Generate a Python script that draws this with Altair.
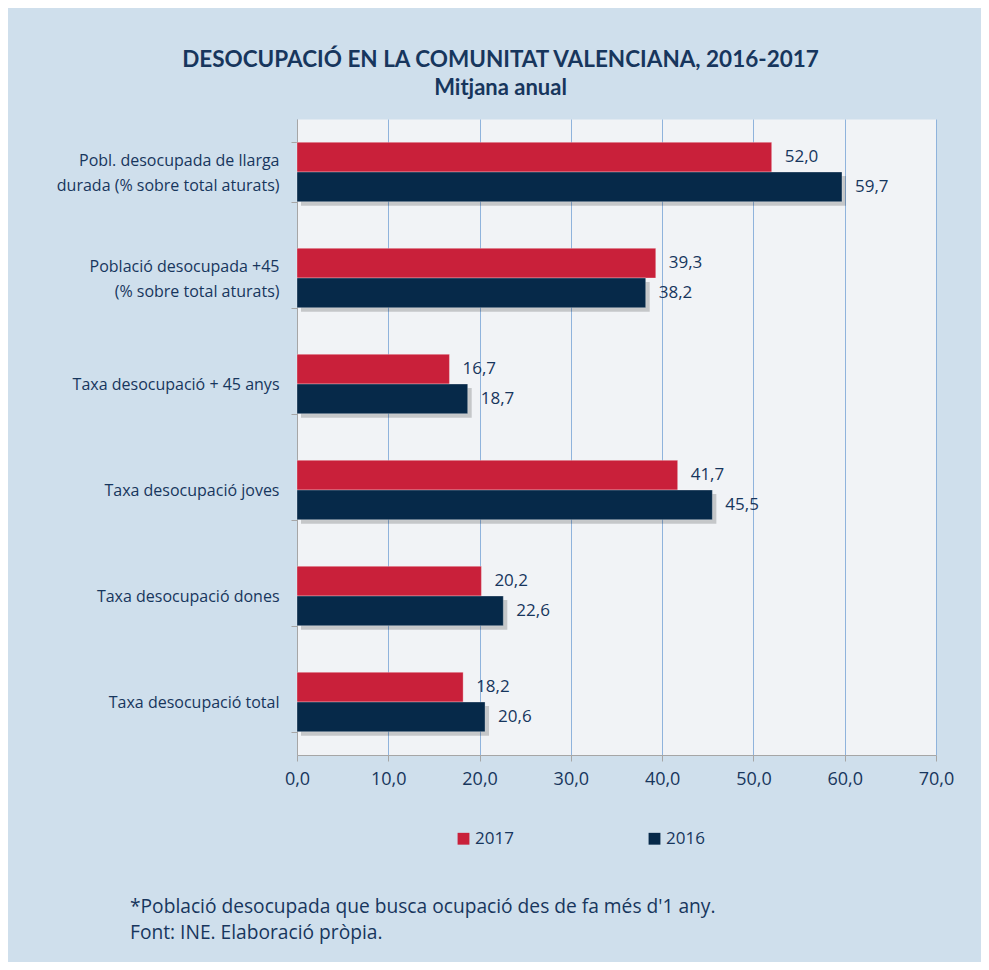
import altair as alt
import pandas as pd

categories = [
    "Pobl. desocupada de llarga|durada (% sobre total aturats)",
    "Població desocupada +45|(% sobre total aturats)",
    "Taxa desocupació + 45 anys",
    "Taxa desocupació joves",
    "Taxa desocupació dones",
    "Taxa desocupació total",
]
years = ["2017", "2016"]
values_2017 = [52.0, 39.3, 16.7, 41.7, 20.2, 18.2]
values_2016 = [59.7, 38.2, 18.7, 45.5, 22.6, 20.6]
x_ticks = [0, 10, 20, 30, 40, 50, 60, 70]
title_text = "DESOCUPACIÓ EN LA COMUNITAT VALENCIANA, 2016-2017"
subtitle_text = "Mitjana anual"
footnotes = [
    "*Població  desocupada que busca ocupació des de fa més d'1 any.",
    "Font: INE. Elaboració pròpia.",
]

RED = "#c9203a"
NAVY = "#062949"
TEXT = "#17365d"
FONT = "Open Sans"
TFONT = "Lato"

rows = []
for c, v17, v16 in zip(categories, values_2017, values_2016):
    rows.append({"category": c, "year": "2017", "value": v17})
    rows.append({"category": c, "year": "2016", "value": v16})
df = pd.DataFrame(rows)
notes_df = pd.DataFrame({"note": ["|".join(footnotes)]})

W, H = 639, 636
pad_inner, pad_outer = 0.44, 0.22
step = H / (len(categories) - pad_inner + 2 * pad_outer)
bw = step * (1 - pad_inner)
sh = 4

y_enc = alt.Y(
    "category:N",
    sort=categories,
    scale=alt.Scale(paddingInner=pad_inner, paddingOuter=pad_outer),
    axis=alt.Axis(
        title=None,
        labelExpr="split(datum.label, '|')",
        labelFontSize=16,
        labelColor=TEXT,
        labelFont=FONT,
        labelPadding=12,
        labelLineHeight=25,
        labelLimit=400,
        labelOffset={"condition": {"test": "indexof(datum.label, '|') >= 0", "value": -12}, "value": 0},
        tickBand="extent",
        tickSize=6,
        tickColor="#a6a6a6",
        domainColor="#a6a6a6",
        grid=False,
    ),
)
x_enc = alt.X(
    "value:Q",
    scale=alt.Scale(domain=[0, 70], nice=False),
    axis=alt.Axis(
        title=None,
        values=x_ticks,
        labelExpr="replace(format(datum.value, '.1f'), '.', ',')",
        labelFontSize=18,
        labelColor=TEXT,
        labelFont=FONT,
        labelPadding=9,
        labelFlush=False,
        labelOverlap=False,
        tickSize=6,
        tickColor="#a6a6a6",
        domainColor="#a6a6a6",
        grid=True,
        gridColor="#8fb3dc",
        gridWidth=1,
    ),
)

base = alt.Chart(df)

shadow = base.transform_filter(alt.datum.year == "2016").mark_bar(
    color="#000000", opacity=0.18, xOffset=sh
).encode(
    y=y_enc,
    x=x_enc,
    yOffset=alt.YOffset("year:N", sort=years,
                        scale=alt.Scale(domain=years, range=[sh, bw + sh], paddingInner=0, paddingOuter=0)),
)

bars = base.mark_bar(strokeWidth=1, strokeOpacity=0.3, stroke="#ffffff").encode(
    y=y_enc,
    x=x_enc,
    yOffset=alt.YOffset("year:N", sort=years, scale=alt.Scale(paddingInner=0, paddingOuter=0)),
    color=alt.Color(
        "year:N",
        scale=alt.Scale(domain=years, range=[RED, NAVY]),
        legend=alt.Legend(
            title=None,
            orient="none",
            legendX=158,
            legendY=711,
            direction="horizontal",
            symbolType="square",
            symbolSize=140,
            symbolStrokeWidth=0,
            labelFontSize=17,
            labelColor=TEXT,
            labelFont=FONT,
            labelOffset=3,
            columnPadding=132,
        ),
    ),
)

labels = base.mark_text(
    align="left", baseline="middle", dx=13, fontSize=17, color=TEXT, font=FONT
).transform_calculate(
    lbl="replace(format(datum.value, '.1f'), '.', ',')"
).encode(
    y=y_enc,
    x=x_enc,
    yOffset=alt.YOffset("year:N", sort=years,
                        scale=alt.Scale(domain=years, range=[bw / 4, bw * 3 / 4], padding=0)),
    text="lbl:N",
)

notes = alt.Chart(notes_df).mark_text(
    align="left", baseline="middle", fontSize=19.2, color=TEXT, font=FONT,
    lineBreak="|", lineHeight=26,
).encode(
    x=alt.value(-167),
    y=alt.value(788),
    text="note:N",
)

chart = alt.layer(shadow, bars, labels, notes).resolve_scale(
    yOffset="independent"
).properties(
    width=W,
    height=H,
    autosize=alt.AutoSizeParams(type="none"),
    padding={"left": 289, "top": 111, "right": 45, "bottom": 207},
    background="#cfdfec",
    title=alt.TitleParams(
        text=title_text,
        subtitle=subtitle_text,
        anchor="middle",
        dx=-116,
        font=TFONT,
        fontSize=22.5,
        fontWeight="bold",
        color=TEXT,
        subtitleFont=TFONT,
        subtitleFontSize=22,
        subtitleFontWeight="bold",
        subtitleColor=TEXT,
        subtitlePadding=7,
        offset=12,
    ),
).configure_view(
    fill="#f1f3f6", stroke="transparent"
)

chart.save("out.html", embed_options={"renderer": "svg", "actions": False})
